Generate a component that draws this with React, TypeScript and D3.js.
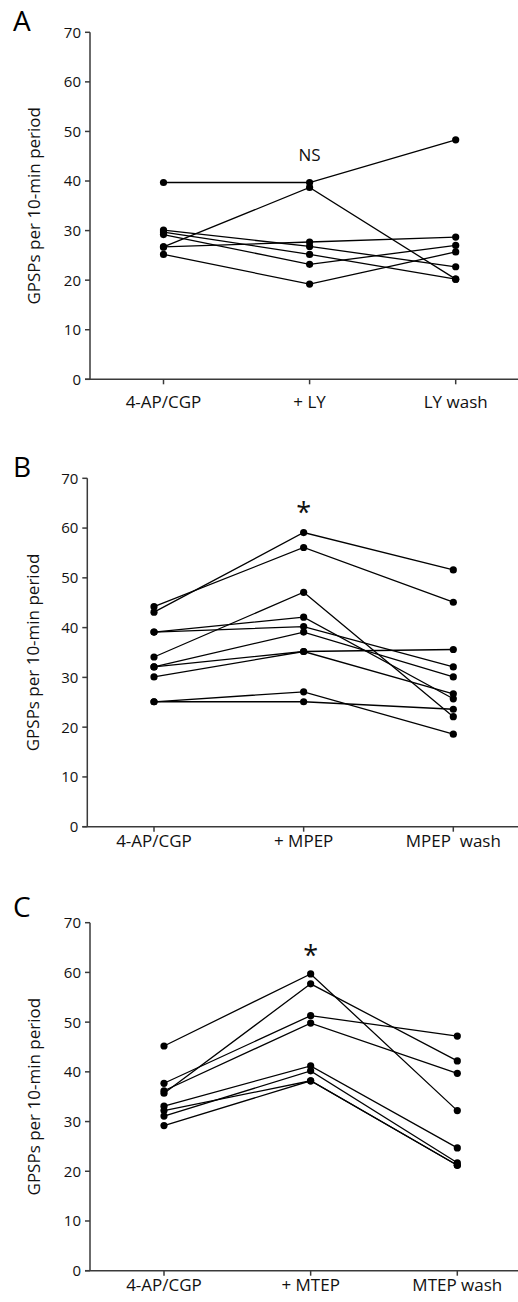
import React from "react";
import * as d3 from "d3";

// ---------- data ----------
const yTicks = [0, 10, 20, 30, 40, 50, 60, 70];
const yLabel = "GPSPs per 10-min period";

const categoriesA = ["4-AP/CGP", "+ LY", "LY wash"];
const categoriesB = ["4-AP/CGP", "+ MPEP", "MPEP  wash"];
const categoriesC = ["4-AP/CGP", "+ MTEP", "MTEP wash"];

const seriesA: number[][] = [
  [39.7, 39.7, 48.3],
  [26.7, 38.7, 20.2],
  [26.7, 27.7, 28.7],
  [30.1, 26.8, 22.7],
  [29.7, 25.2, 20.2],
  [29.2, 23.2, 27.0],
  [25.2, 19.2, 25.7],
];

const seriesB: number[][] = [
  [43.1, 59.1, 51.6],
  [44.2, 56.1, 45.1],
  [34.1, 47.1, 22.1],
  [39.1, 42.1, 25.7],
  [39.1, 40.2, 32.1],
  [32.1, 39.1, 30.1],
  [32.1, 35.2, 35.6],
  [30.1, 35.2, 26.7],
  [25.1, 27.1, 18.6],
  [25.1, 25.1, 23.6],
];

const seriesC: number[][] = [
  [45.2, 59.7, 32.2],
  [35.7, 57.7, 42.2],
  [37.7, 51.3, 47.2],
  [36.2, 49.8, 39.7],
  [33.1, 41.2, 24.7],
  [31.1, 40.2, 21.7],
  [32.2, 38.2, 21.2],
  [29.2, 38.2, 21.2],
];

const panelLetters = ["A", "B", "C"];
const notes = ["NS", "*", "*"];

// ---------- layout ----------
const W = 518;
const H = 1302;
const FONT = "'Open Sans', 'Liberation Sans', Arial, sans-serif";

const layouts = [
  { top: 32.3, bottom: 379.3, axisX: 90, c0: 163.5, c1: 455.7, letterY: 31, noteY: 161, noteSize: 17, catDy: 29, ylabX: 40 },
  { top: 478.3, bottom: 826.7, axisX: 87.3, c0: 154, c1: 453.3, letterY: 477, noteY: 522, noteSize: 27, catDy: 20, ylabX: 39 },
  { top: 922.7, bottom: 1270.7, axisX: 90, c0: 164, c1: 457.3, letterY: 917, noteY: 965, noteSize: 27, catDy: 20, ylabX: 40 },
];

const allCats = [categoriesA, categoriesB, categoriesC];
const allSeries = [seriesA, seriesB, seriesC];

function Panel({ idx }: { idx: number }) {
  const L = layouts[idx];
  const cats = allCats[idx];
  const series = allSeries[idx];
  const y = d3.scaleLinear().domain([0, 70]).range([L.bottom, L.top]);
  const x = d3.scalePoint<string>().domain(cats).range([L.c0, L.c1]);
  const line = d3
    .line<number>()
    .x((_, i) => x(cats[i]) as number)
    .y((d) => y(d));
  const axisColor = "#3a3a3a";
  const midY = (L.top + L.bottom) / 2;
  return (
    <g>
      <text x={13} y={L.letterY} fontSize={28} fontFamily={FONT} fill="#000">
        {panelLetters[idx]}
      </text>
      {/* y axis */}
      <line x1={L.axisX} x2={L.axisX} y1={y(70)} y2={y(0)} stroke={axisColor} strokeWidth={1.5} />
      {yTicks.map((t) => (
        <g key={t}>
          <line x1={L.axisX - 5} x2={L.axisX} y1={y(t)} y2={y(t)} stroke={axisColor} strokeWidth={1.5} />
          <text
            x={L.axisX - 9}
            y={y(t)}
            dy="0.36em"
            textAnchor="end"
            fontSize={15}
            fontFamily={FONT}
            fill="#111"
          >
            {t}
          </text>
        </g>
      ))}
      {/* x axis */}
      <line x1={L.axisX - 5} x2={W} y1={y(0)} y2={y(0)} stroke={axisColor} strokeWidth={1.5} />
      {cats.map((c) => (
        <g key={c}>
          <line x1={x(c)} x2={x(c)} y1={y(0)} y2={y(0) + 5} stroke={axisColor} strokeWidth={1.5} />
          <text
            x={x(c)}
            y={y(0) + L.catDy}
            textAnchor="middle"
            fontSize={17}
            fontFamily={FONT}
            fill="#111"
            style={{ whiteSpace: "pre" }}
          >
            {c}
          </text>
        </g>
      ))}
      {/* y label */}
      <text
        transform={`translate(${L.ylabX},${midY}) rotate(-90)`}
        textAnchor="middle"
        fontSize={17}
        fontFamily={FONT}
        fill="#111"
      >
        {yLabel}
      </text>
      {/* series */}
      {series.map((s, i) => (
        <path key={"l" + i} d={line(s) || ""} fill="none" stroke="#000" strokeWidth={1.3} />
      ))}
      {series.map((s, i) =>
        s.map((v, j) => (
          <circle key={"c" + i + "-" + j} cx={x(cats[j])} cy={y(v)} r={3.6} fill="#000" />
        ))
      )}
      {/* significance note */}
      <text
        x={x(cats[1])}
        y={L.noteY}
        textAnchor="middle"
        fontSize={L.noteSize}
        fontFamily={FONT}
        fill="#111"
      >
        {notes[idx]}
      </text>
    </g>
  );
}

export default function App() {
  return (
    <svg
      width={W}
      height={H}
      viewBox={`0 0 ${W} ${H}`}
      style={{ position: "absolute", left: 0, top: 0, background: "#fff" }}
    >
      <rect x={0} y={0} width={W} height={H} fill="#fff" />
      {[0, 1, 2].map((i) => (
        <Panel key={i} idx={i} />
      ))}
    </svg>
  );
}
